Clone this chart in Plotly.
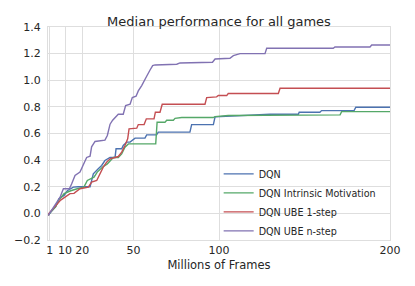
import plotly.graph_objects as go

x_ticks = [1, 10, 20, 50, 100, 200]
y_ticks = [-0.2, 0.0, 0.2, 0.4, 0.6, 0.8, 1.0, 1.2, 1.4]

dqn_x = [0.2, 1.6, 4.5, 6.4, 9.4, 11.3, 14.8, 17.7, 24.6, 25.5, 26.5, 29.4, 31.4, 33.3, 36.3, 39.2, 39.8, 43.1,
         44.0, 46.0, 48.0, 50.9, 56.7, 57.7, 63.5, 64.5, 83.0, 84.0, 96.7, 97.7, 110.3, 129.8, 146.4, 146.9,
         159.0, 160.0, 179.0, 180.0, 200.0]
dqn_y = [-0.015, 0.01, 0.05, 0.11, 0.135, 0.17, 0.197, 0.2, 0.2, 0.247, 0.297, 0.335, 0.36, 0.397, 0.42, 0.42,
         0.485, 0.485, 0.51, 0.535, 0.535, 0.565, 0.565, 0.59, 0.59, 0.61, 0.61, 0.667, 0.667, 0.725, 0.735,
         0.745, 0.745, 0.76, 0.76, 0.772, 0.772, 0.797, 0.797]

im_x = [0.2, 1.6, 4.5, 6.4, 9.4, 13.3, 17.1, 21.0, 23.0, 26.9, 28.8, 31.8, 34.7, 36.6, 38.2, 41.1, 43.1, 45.0,
        47.0, 63.0, 63.8, 68.4, 69.4, 73.3, 74.3, 78.2, 96.7, 97.7, 105.4, 170.8, 171.7, 200.0]
im_y = [-0.015, 0.01, 0.05, 0.1, 0.148, 0.17, 0.185, 0.197, 0.247, 0.272, 0.31, 0.347, 0.372, 0.397, 0.42, 0.42,
        0.447, 0.497, 0.522, 0.522, 0.684, 0.684, 0.70, 0.70, 0.714, 0.72, 0.72, 0.727, 0.735, 0.74, 0.764, 0.764]

ube1_x = [0.2, 0.6, 7.4, 12.9, 15.2, 18.7, 23.6, 25.5, 28.5, 30.4, 32.3, 34.3, 36.3, 41.1, 43.1, 45.0, 46.6,
          47.4, 51.9, 52.8, 56.2, 57.5, 62.0, 62.8, 65.5, 66.8, 91.8, 92.8, 98.6, 99.6, 104.5, 105.4, 134.7,
          135.7, 200.0]
ube1_y = [-0.015, 0.0, 0.1, 0.148, 0.15, 0.185, 0.197, 0.235, 0.247, 0.297, 0.347, 0.385, 0.41, 0.427, 0.46,
          0.51, 0.56, 0.635, 0.64, 0.667, 0.667, 0.71, 0.71, 0.76, 0.76, 0.82, 0.82, 0.87, 0.875, 0.885, 0.885,
          0.9, 0.9, 0.94, 0.94]

uben_x = [0.2, 4.1, 7.0, 9.0, 12.5, 13.8, 15.8, 18.7, 20.7, 22.6, 24.6, 25.5, 27.5, 33.3, 34.7, 36.3, 37.8,
          39.8, 41.1, 44.0, 45.4, 48.0, 49.3, 51.5, 52.8, 54.8, 56.3, 57.7, 59.6, 61.2, 62.6, 75.3, 77.2, 96.2,
          97.7, 106.4, 108.4, 112.3, 126.9, 127.9, 166.8, 167.8, 188.3, 189.3, 200.0]
uben_y = [-0.015, 0.06, 0.12, 0.185, 0.185, 0.22, 0.285, 0.31, 0.37, 0.42, 0.43, 0.5, 0.54, 0.55, 0.585, 0.67,
          0.70, 0.73, 0.745, 0.745, 0.81, 0.82, 0.87, 0.88, 0.92, 0.96, 1.0, 1.03, 1.075, 1.11, 1.115, 1.12,
          1.13, 1.135, 1.16, 1.165, 1.185, 1.2, 1.2, 1.24, 1.24, 1.25, 1.25, 1.265, 1.265]

series = [
    ("DQN", dqn_x, dqn_y, "#4C72B0"),
    ("DQN Intrinsic Motivation", im_x, im_y, "#55A868"),
    ("DQN UBE 1-step", ube1_x, ube1_y, "#C44E52"),
    ("DQN UBE n-step", uben_x, uben_y, "#8172B2"),
]

fig = go.Figure()
for name, xs, ys, col in series:
    fig.add_trace(go.Scatter(x=xs, y=ys, mode="lines", name=name,
                             line=dict(color=col, width=1.4)))

txt = "#262626"
fig.update_layout(
    width=407, height=278,
    margin=dict(l=40, r=25, t=19, b=46),
    paper_bgcolor="white", plot_bgcolor="white",
    font=dict(family="DejaVu Sans", color=txt, size=11),
    title=dict(text="Median performance for all games", x=0.5, xref="paper", xanchor="center",
               y=1, yref="paper", yanchor="bottom", pad=dict(b=1), automargin=False,
               font=dict(size=13, color=txt)),
    legend=dict(x=0.499, y=-0.025, xanchor="left", yanchor="bottom",
                bgcolor="rgba(0,0,0,0)", font=dict(size=9.6, color=txt),
                tracegroupgap=0),
    showlegend=True,
)
fig.update_xaxes(range=[0, 200], tickvals=x_ticks, ticktext=[str(v) for v in x_ticks],
                 showgrid=True, gridcolor="#dedede", gridwidth=1, automargin=False,
                 showline=True, linecolor="#dedede", linewidth=1, mirror=True,
                 zeroline=False, ticks="", title=dict(text="Millions of Frames", standoff=4,
                                                      font=dict(size=11.5, color=txt)))
fig.update_yaxes(range=[-0.2, 1.4], tickvals=y_ticks, tickformat=".1f", automargin=False,
                 showgrid=True, gridcolor="#dedede", gridwidth=1,
                 showline=True, linecolor="#dedede", linewidth=1, mirror=True,
                 zeroline=False, ticks="", ticklabelstandoff=4)

fig.write_html("out.html")
